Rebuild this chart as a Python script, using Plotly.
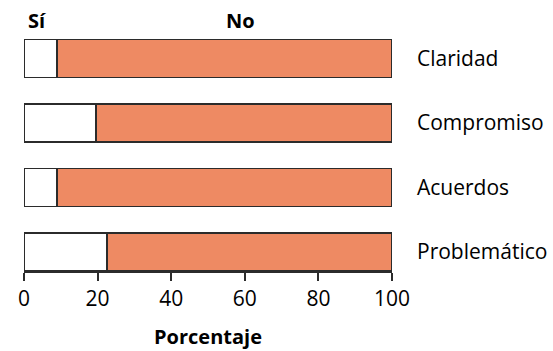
import plotly.graph_objects as go

# data
categories = ["Claridad", "Compromiso", "Acuerdos", "Problemático"]
si_pct = [9, 19.5, 9, 22.5]
no_pct = [91, 80.5, 91, 77.5]
x_ticks = [0, 20, 40, 60, 80, 100]

FONT = "Open Sans"
SALMON = "#EE8A63"
LINE = "#2b2b2b"

fig = go.Figure()
fig.add_trace(go.Bar(
    y=categories, x=si_pct, name="Sí", orientation="h",
    marker=dict(color="white", line=dict(color=LINE, width=1.5)),
    width=0.59,
))
fig.add_trace(go.Bar(
    y=categories, x=no_pct, name="No", orientation="h",
    marker=dict(color=SALMON, line=dict(color=LINE, width=1.5)),
    width=0.59,
))

# header labels above the bars
for label, xpos in [("Sí", 3.5), ("No", 58.7)]:
    fig.add_annotation(
        x=xpos, xref="x", y=1.0, yref="paper", yanchor="middle",
        text="<b>%s</b>" % label, showarrow=False,
        font=dict(family=FONT, size=20, color="black"),
    )

fig.update_layout(
    barmode="stack",
    width=553, height=351,
    margin=dict(l=24, r=161, t=20, b=80),
    plot_bgcolor="white", paper_bgcolor="white",
    showlegend=False,
    font=dict(family=FONT, size=21, color="black"),
)
fig.update_xaxes(
    range=[0, 100], tickvals=x_ticks, showgrid=False, zeroline=False,
    showline=True, linecolor=LINE, linewidth=1.5, automargin=False,
    ticks="outside", ticklen=8, tickcolor=LINE, tickwidth=1.5,
    title=dict(text="<b>Porcentaje</b>", font=dict(size=20), standoff=19),
)
fig.update_yaxes(
    type="category", categoryorder="array", categoryarray=categories,
    range=[3.295, -0.597], side="right", showgrid=False, zeroline=False,
    showline=False, ticks="", ticklabelstandoff=24, automargin=False,
)

# drop the default page margin so the figure fills the window exactly
fig.write_html(
    "out.html",
    config={"displayModeBar": False},
    post_script="document.body.style.margin='0';document.body.style.overflow='hidden';",
)
